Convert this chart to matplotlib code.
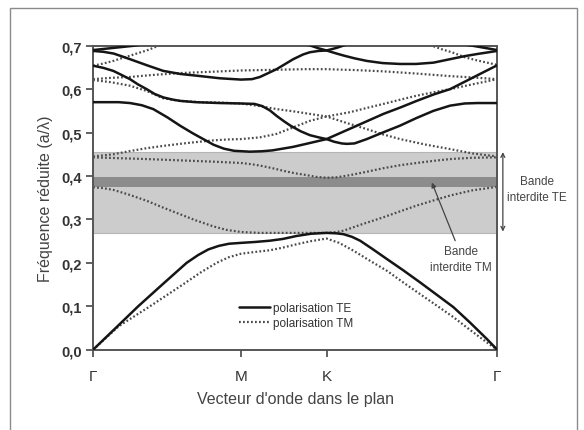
import numpy as np
import matplotlib
matplotlib.use("Agg")
import matplotlib.pyplot as plt
from matplotlib.patches import Rectangle

plt.rcParams['font.family'] = ['Liberation Sans', 'DejaVu Sans']

# Points de haute symétrie (Gamma - M - K - Gamma)
k_M = 0.577
k_K = 0.911
k_G2 = 1.577
etiquettes_k = ['Γ', 'M', 'K', 'Γ']

# Bandes interdites
gap_TE = (0.269, 0.455)
gap_TM = (0.375, 0.397)

# Polarisation TE (traits pleins)
te1_k = [0, 0.09, 0.176, 0.27, 0.365, 0.41, 0.45, 0.49, 0.53, 0.577, 0.63, 0.69, 0.74, 0.795, 0.85, 0.911,
         0.95, 0.977, 1.01, 1.042, 1.09, 1.146, 1.21, 1.276, 1.34, 1.406, 1.47, 1.536, 1.577]
te1_f = [0, 0.051, 0.100, 0.150, 0.200, 0.218, 0.231, 0.239, 0.244, 0.246, 0.248, 0.251, 0.255, 0.262, 0.267, 0.269,
         0.268, 0.266, 0.260, 0.251, 0.232, 0.209, 0.183, 0.155, 0.127, 0.098, 0.063, 0.025, 0]

te2_k = [0, 0.05, 0.10, 0.144, 0.19, 0.235, 0.29, 0.339, 0.39, 0.43, 0.47, 0.51, 0.55, 0.612, 0.66, 0.70, 0.78,
         0.846, 0.911, 1.003, 1.068, 1.133, 1.20, 1.263, 1.33, 1.393, 1.46, 1.52, 1.577]
te2_f = [0.570, 0.570, 0.570, 0.568, 0.563, 0.554, 0.535, 0.516, 0.498, 0.485, 0.472, 0.463, 0.458, 0.456, 0.457, 0.459, 0.467,
         0.476, 0.485, 0.509, 0.526, 0.543, 0.558, 0.573, 0.588, 0.600, 0.620, 0.638, 0.655]

te3_k = [0, 0.04, 0.079, 0.11, 0.144, 0.175, 0.209, 0.24, 0.274, 0.31, 0.339, 0.40, 0.495, 0.577, 0.63, 0.66,
         0.69, 0.717, 0.745, 0.77, 0.81, 0.846, 0.88, 0.911, 0.94, 0.97, 0.99, 1.02, 1.068, 1.13, 1.198, 1.26,
         1.328, 1.393, 1.45, 1.50, 1.577]
te3_f = [0.654, 0.649, 0.642, 0.633, 0.623, 0.611, 0.600, 0.589, 0.581, 0.576, 0.573, 0.570, 0.568, 0.567, 0.566, 0.561,
         0.551, 0.538, 0.526, 0.516, 0.503, 0.494, 0.489, 0.485, 0.479, 0.475, 0.474, 0.475, 0.485, 0.500, 0.516, 0.533,
         0.550, 0.562, 0.567, 0.568, 0.568]

te4_k = [0, 0.04, 0.08, 0.11, 0.144, 0.21, 0.274, 0.34, 0.404, 0.495, 0.577, 0.62, 0.651, 0.68, 0.716, 0.75,
         0.781, 0.82, 0.846, 0.88, 0.911, 0.95, 0.99, 1.03]
te4_f = [0.688, 0.686, 0.682, 0.676, 0.669, 0.655, 0.642, 0.635, 0.631, 0.625, 0.622, 0.623, 0.628, 0.636, 0.646, 0.658,
         0.669, 0.680, 0.685, 0.688, 0.689, 0.695, 0.703, 0.710]

te5_k = [0.80, 0.85, 0.88, 0.911, 0.95, 0.98, 1.02, 1.068, 1.13, 1.198, 1.26, 1.328, 1.393, 1.45, 1.50, 1.577]
te5_f = [0.710, 0.700, 0.694, 0.689, 0.682, 0.677, 0.671, 0.665, 0.660, 0.658, 0.658, 0.661, 0.669, 0.676, 0.681, 0.688]

te6a_k = [0, 0.08, 0.16, 0.22]
te6a_f = [0.690, 0.695, 0.700, 0.706]
te6b_k = [1.42, 1.50, 1.577]
te6b_f = [0.706, 0.698, 0.690]

# Polarisation TM (pointillés)
tm1_k = [0, 0.1, 0.222, 0.35, 0.42, 0.482, 0.53, 0.577, 0.63, 0.69, 0.74, 0.795, 0.85, 0.911, 0.96, 1.016,
         1.08, 1.146, 1.21, 1.276, 1.34, 1.406, 1.47, 1.536, 1.577]
tm1_f = [0, 0.054, 0.100, 0.150, 0.178, 0.200, 0.213, 0.221, 0.225, 0.229, 0.235, 0.243, 0.250, 0.256, 0.246, 0.228,
         0.205, 0.182, 0.155, 0.128, 0.102, 0.075, 0.046, 0.017, 0]

tm2_k = [0, 0.04, 0.079, 0.14, 0.209, 0.27, 0.339, 0.40, 0.469, 0.52, 0.577, 0.65, 0.717, 0.80, 0.911, 0.95,
         0.977, 1.05, 1.133, 1.20, 1.263, 1.33, 1.393, 1.48, 1.577]
tm2_f = [0.374, 0.372, 0.368, 0.357, 0.343, 0.328, 0.312, 0.298, 0.284, 0.276, 0.271, 0.269, 0.269, 0.269, 0.269, 0.271,
         0.274, 0.289, 0.305, 0.319, 0.332, 0.344, 0.355, 0.367, 0.375]

tm3_k = [0, 0.1, 0.209, 0.34, 0.469, 0.577, 0.62, 0.651, 0.70, 0.742, 0.79, 0.834, 0.87, 0.911, 0.95, 1.003,
         1.07, 1.133, 1.20, 1.263, 1.33, 1.393, 1.48, 1.577]
tm3_f = [0.443, 0.441, 0.439, 0.436, 0.433, 0.430, 0.427, 0.424, 0.418, 0.412, 0.406, 0.402, 0.398, 0.396, 0.397, 0.402,
         0.410, 0.418, 0.425, 0.430, 0.435, 0.439, 0.442, 0.443]

tm4_k = [0, 0.079, 0.14, 0.209, 0.27, 0.339, 0.40, 0.469, 0.52, 0.577, 0.651, 0.716, 0.781, 0.846, 0.911, 1.003,
         1.07, 1.133, 1.20, 1.263, 1.33, 1.393, 1.48, 1.577]
tm4_f = [0.445, 0.450, 0.457, 0.464, 0.469, 0.474, 0.478, 0.482, 0.484, 0.485, 0.489, 0.497, 0.512, 0.527, 0.537, 0.547,
         0.557, 0.566, 0.576, 0.585, 0.593, 0.600, 0.611, 0.623]

tm5_k = [0, 0.07, 0.143, 0.208, 0.273, 0.339, 0.42, 0.495, 0.577, 0.65, 0.717, 0.78, 0.846, 0.911, 0.99, 1.068,
         1.13, 1.198, 1.30, 1.393, 1.48, 1.577]
tm5_f = [0.621, 0.616, 0.608, 0.596, 0.579, 0.573, 0.570, 0.569, 0.567, 0.561, 0.554, 0.549, 0.543, 0.537, 0.522, 0.508,
         0.496, 0.485, 0.472, 0.462, 0.452, 0.445]

tm6_k = [0, 0.07, 0.143, 0.24, 0.339, 0.46, 0.577, 0.66, 0.742, 0.83, 0.911, 1.02, 1.133, 1.26, 1.393, 1.48, 1.577]
tm6_f = [0.623, 0.626, 0.628, 0.633, 0.637, 0.640, 0.643, 0.644, 0.645, 0.646, 0.646, 0.644, 0.641, 0.636, 0.630, 0.627, 0.623]

tm7a_k = [0, 0.04, 0.079, 0.11, 0.144, 0.175, 0.209, 0.235, 0.255, 0.28]
tm7a_f = [0.654, 0.659, 0.665, 0.671, 0.677, 0.683, 0.689, 0.695, 0.700, 0.706]
tm7b_k = [1.30, 1.323, 1.36, 1.40, 1.453, 1.50, 1.53, 1.577]
tm7b_f = [0.706, 0.700, 0.692, 0.685, 0.673, 0.666, 0.662, 0.656]

bandes_te = [(te1_k, te1_f), (te2_k, te2_f), (te3_k, te3_f), (te4_k, te4_f),
             (te5_k, te5_f), (te6a_k, te6a_f), (te6b_k, te6b_f)]
bandes_tm = [(tm1_k, tm1_f), (tm2_k, tm2_f), (tm3_k, tm3_f), (tm4_k, tm4_f),
             (tm5_k, tm5_f), (tm6_k, tm6_f), (tm7a_k, tm7a_f), (tm7b_k, tm7b_f)]

# Figure
fig = plt.figure(figsize=(5.84, 4.31), dpi=100)
ax = fig.add_axes([0.1594, 0.1863, 0.692, 0.7053])

# cadre extérieur
fig.patches.append(Rectangle((10 / 584, -0.02), 567 / 584, 1 - 9 / 431 + 0.02,
                             transform=fig.transFigure, fill=False,
                             edgecolor='#8a8a8a', linewidth=1.0))

ax.axhspan(gap_TE[0], gap_TE[1], color='#cccccc', ec='#b5b5b5', lw=0.8, zorder=0)
ax.axhspan(gap_TM[0], gap_TM[1], color='#8c8c8c', lw=0, zorder=1)

for i, (k, f) in enumerate(bandes_te):
    ax.plot(k, f, color='#151515', linewidth=1.8, solid_capstyle='round', solid_joinstyle='round',
            label='polarisation TE' if i == 0 else None, zorder=3)
for i, (k, f) in enumerate(bandes_tm):
    ax.plot(k, f, color='#4a4a4a', linewidth=1.6, linestyle=(0, (0.8, 1.0)),
            label='polarisation TM' if i == 0 else None, zorder=2)

ax.set_xlim(0, k_G2)
ax.set_ylim(0, 0.7)

ax.set_xticks([0, k_M, k_K, k_G2])
ax.set_xticklabels(etiquettes_k, fontsize=11, color='#333333')
yt = np.arange(0, 0.71, 0.1)
ax.set_yticks(yt)
ax.set_yticklabels([f"{v:.1f}".replace('.', ',') for v in yt],
                   fontsize=10.5, fontweight='bold', color='#333333')
ax.tick_params(direction='out', length=5, width=1.3, color='#555555', pad=3)
ax.tick_params(axis='x', pad=9)

for s in ax.spines.values():
    s.set_color('#555555')
    s.set_linewidth(1.4)

ax.set_xlabel("Vecteur d'onde dans le plan", fontsize=11.5, color='#444444', labelpad=6)
ax.set_ylabel("Fréquence réduite (a/λ)", fontsize=11.5, color='#444444', labelpad=6)

leg = ax.legend(loc='upper left', bbox_to_anchor=(0.36, 0.158), frameon=False,
                fontsize=8.5, handlelength=2.7, handletextpad=0.2,
                labelspacing=0.3, borderpad=0, borderaxespad=0)
for t in leg.get_texts():
    t.set_color('#333333')

# Annotations
ax.annotate('', xy=(1.599, 0.455), xytext=(1.599, 0.272),
            arrowprops=dict(arrowstyle='<->', color='#444444', lw=0.9,
                            mutation_scale=7, shrinkA=0, shrinkB=0),
            annotation_clip=False)
ax.text(1.733, 0.370, 'Bande\ninterdite TE', ha='center', va='center',
        fontsize=8.5, color='#444444', linespacing=1.4, clip_on=False)

ax.annotate('', xy=(1.322, 0.385), xytext=(1.413, 0.251),
            arrowprops=dict(arrowstyle='-|>', color='#444444', lw=0.9,
                            mutation_scale=7, shrinkA=0, shrinkB=0),
            annotation_clip=False)
ax.text(1.436, 0.209, 'Bande\ninterdite TM', ha='center', va='center',
        fontsize=8.5, color='#444444', linespacing=1.4, clip_on=False, zorder=5)

fig.savefig('out.png', dpi=100, facecolor='white')
